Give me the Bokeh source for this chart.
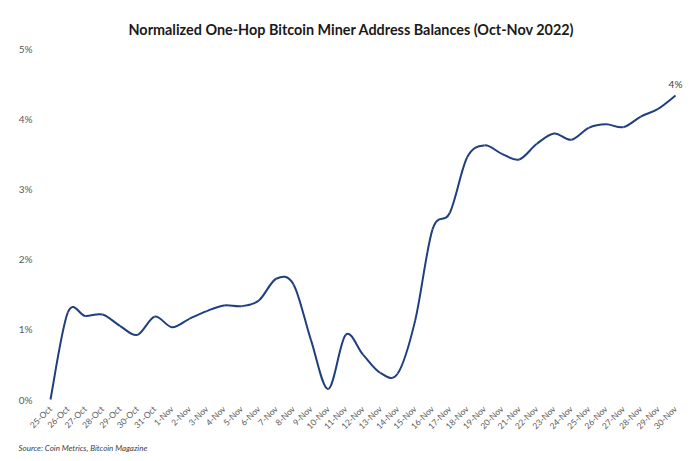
from bokeh.plotting import figure
from bokeh.models import Range1d, FixedTicker, PrintfTickFormatter, Label, Title
from bokeh.embed import file_html
from bokeh.resources import INLINE
import math

# ---- data ----
dates = ["25-Oct", "26-Oct", "27-Oct", "28-Oct", "29-Oct", "30-Oct", "31-Oct",
         "1-Nov", "2-Nov", "3-Nov", "4-Nov", "5-Nov", "6-Nov", "7-Nov", "8-Nov",
         "9-Nov", "10-Nov", "11-Nov", "12-Nov", "13-Nov", "14-Nov", "15-Nov",
         "16-Nov", "17-Nov", "18-Nov", "19-Nov", "20-Nov", "21-Nov", "22-Nov",
         "23-Nov", "24-Nov", "25-Nov", "26-Nov", "27-Nov", "28-Nov", "29-Nov",
         "30-Nov"]
balances = [0.00, 1.24, 1.19, 1.21, 1.05, 0.92, 1.18,
            1.03, 1.15, 1.26, 1.34, 1.33, 1.41, 1.72, 1.64,
            0.85, 0.15, 0.92, 0.64, 0.38, 0.37, 1.12,
            2.42, 2.66, 3.45, 3.62, 3.50, 3.42, 3.64,
            3.79, 3.70, 3.87, 3.92, 3.88, 4.03, 4.14,
            4.33]
y_ticks = [0, 1, 2, 3, 4, 5]

title_text = "Normalized One-Hop Bitcoin Miner Address Balances (Oct-Nov 2022)"
source_text = "Source: Coin Metrics, Bitcoin Magazine"

FONT = "Lato"
LINE_COLOR = "#203F7E"
TEXT_COLOR = "#595959"

xs = list(range(len(dates)))
n = len(xs)

# smooth line (Catmull-Rom -> cubic Bezier segments) built from the data
x0, y0, x1, y1, cx0, cy0, cx1, cy1 = [], [], [], [], [], [], [], []
for i in range(n - 1):
    pm = max(i - 1, 0)
    pp = min(i + 2, n - 1)
    x0.append(xs[i]); y0.append(balances[i])
    x1.append(xs[i + 1]); y1.append(balances[i + 1])
    cx0.append(xs[i] + (xs[i + 1] - xs[pm]) / 6.0)
    cy0.append(balances[i] + (balances[i + 1] - balances[pm]) / 6.0)
    cx1.append(xs[i + 1] - (xs[pp] - xs[i]) / 6.0)
    cy1.append(balances[i + 1] - (balances[pp] - balances[i]) / 6.0)

p = figure(width=692, height=456, output_backend="svg", toolbar_location=None,
           x_range=Range1d(-0.69, n - 1 + 0.69), y_range=Range1d(-0.071, 5.114),
           min_border_left=38, min_border_right=5, min_border_top=40,
           min_border_bottom=51, title=None)
p.outline_line_color = None
p.grid.visible = False
p.background_fill_color = "white"
p.border_fill_color = "white"

p.bezier(x0=x0, y0=y0, x1=x1, y1=y1, cx0=cx0, cy0=cy0, cx1=cx1, cy1=cy1,
         line_color=LINE_COLOR, line_width=2)

# axes
p.xaxis.ticker = FixedTicker(ticks=xs)
p.xaxis.major_label_overrides = {i: d for i, d in zip(xs, dates)}
p.xaxis.major_label_orientation = math.pi / 4
p.yaxis.ticker = FixedTicker(ticks=y_ticks)
p.yaxis.formatter = PrintfTickFormatter(format="%d%%")
for ax in (p.xaxis, p.yaxis):
    ax.axis_line_color = None
    ax.major_tick_line_color = None
    ax.minor_tick_line_color = None
    ax.major_tick_out = 0
    ax.major_tick_in = 0
    ax.minor_tick_out = 0
    ax.minor_tick_in = 0
    ax.major_label_text_font = FONT
    ax.major_label_text_color = TEXT_COLOR
p.yaxis.major_label_text_font_size = "10px"
p.xaxis.major_label_text_font_size = "8.5px"
p.xaxis.major_label_standoff = 3
p.yaxis.major_label_standoff = 6

# end label
p.add_layout(Label(x=xs[-1], y=balances[-1], text=f"{round(balances[-1])}%",
                   text_font=FONT, text_font_size="10px", text_color="#404040",
                   text_align="center", text_baseline="bottom", y_offset=6))

# title and source
p.add_layout(Title(text=title_text, align="left", offset=90, standoff=6,
                   text_font=FONT, text_font_size="14.4px", text_font_style="bold",
                   text_color="#1a1a1a"), "above")
p.add_layout(Title(text=source_text, align="left", offset=-20, standoff=7,
                   text_font=FONT, text_font_size="8px", text_font_style="italic",
                   text_color="#404040"), "below")

open("out.html", "w").write(file_html(p, INLINE))
